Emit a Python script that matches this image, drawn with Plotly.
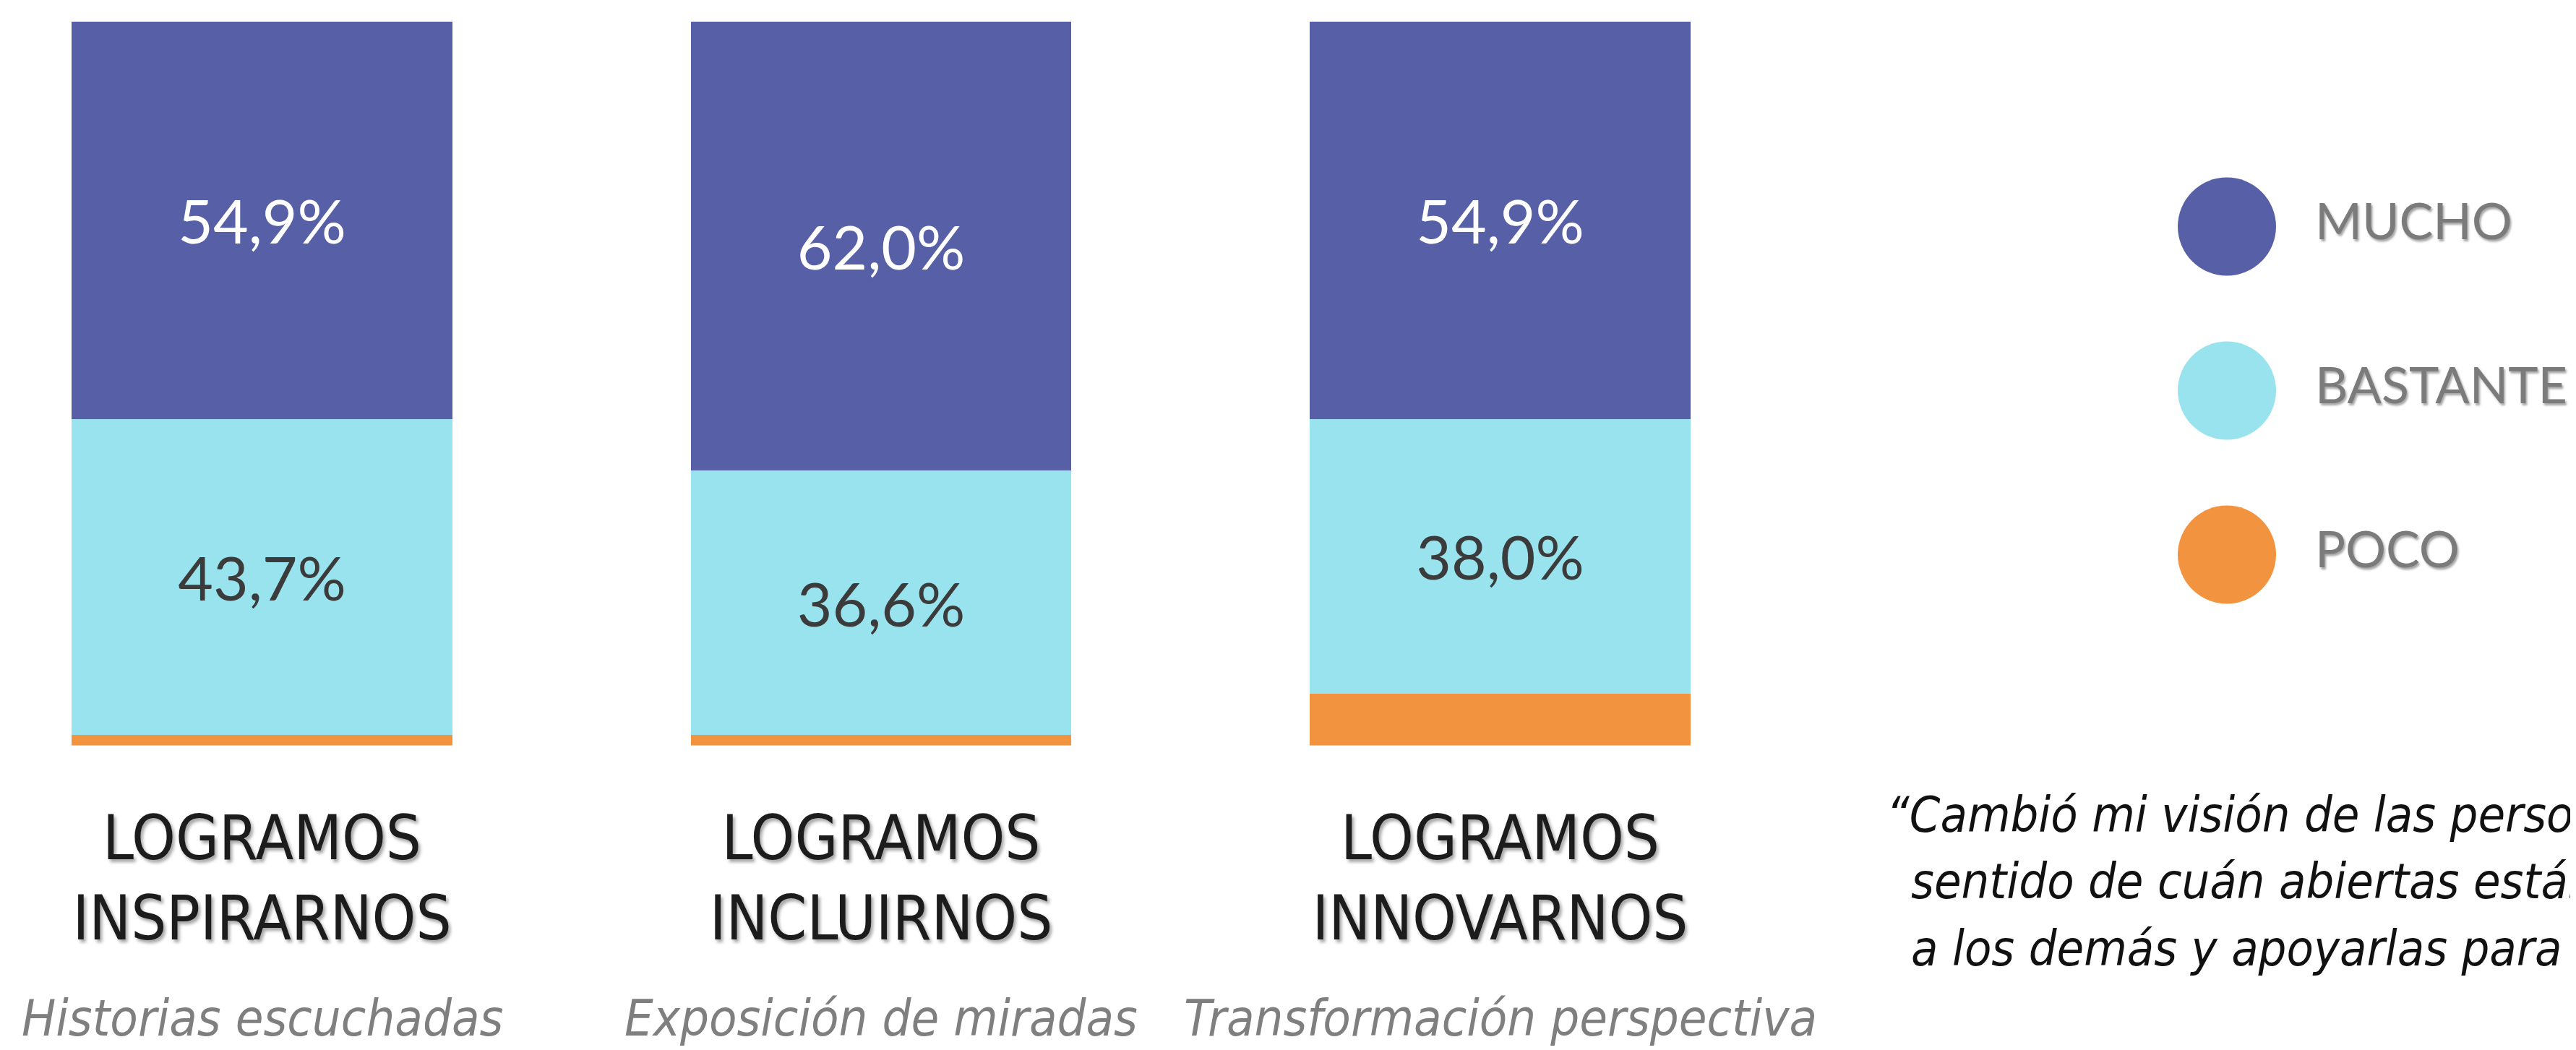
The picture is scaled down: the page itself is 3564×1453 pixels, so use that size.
import plotly.graph_objects as go

# datos
categorias = ["LOGRAMOS<br>INSPIRARNOS", "LOGRAMOS<br>INCLUIRNOS", "LOGRAMOS<br>INNOVARNOS"]
subtitulos = ["Historias escuchadas", "Exposición de miradas", "Transformación perspectiva"]
niveles = ["MUCHO", "BASTANTE", "POCO"]
mucho = [54.9, 62.0, 54.9]
bastante = [43.7, 36.6, 38.0]
poco = [1.4, 1.4, 7.1]
colores = {"MUCHO": "#5760A6", "BASTANTE": "#99E3EE", "POCO": "#F2943F"}
cita = ["“Cambió mi visión de las personas",
        "sentido de cuán abiertas están",
        "a los demás y apoyarlas para"]

W, H = 3564, 1453
NARROW = "Liberation Sans Narrow, DejaVu Sans Condensed, Arial Narrow, sans-serif"
GILL = "Lato, Open Sans, sans-serif"

x = list(range(len(categorias)))
fig = go.Figure()

# barras apiladas: POCO abajo, BASTANTE en medio, MUCHO arriba
series = [("POCO", poco, ""), ("BASTANTE", bastante, "%{y:.1f}%"), ("MUCHO", mucho, "%{y:.1f}%")]
for nombre, vals, tpl in series:
    fig.add_trace(go.Bar(
        x=x, y=vals, name=nombre,
        marker=dict(color=colores[nombre], line=dict(width=0)),
        texttemplate=tpl, textposition="inside", insidetextanchor="middle",
        textangle=0, constraintext="none",
        textfont=dict(family=GILL, size=84,
                      color="white" if nombre == "MUCHO" else "#3b3b3b"),
        showlegend=False, hoverinfo="skip",
    ))

# leyenda con circulos (ejes auxiliares)
pos_ley = list(range(len(niveles)))[::-1]
fig.add_trace(go.Scatter(
    x=[0] * len(niveles), y=pos_ley, mode="markers",
    marker=dict(size=136, color=[colores[n] for n in niveles], line=dict(width=0)),
    xaxis="x2", yaxis="y2", showlegend=False, hoverinfo="skip", cliponaxis=False,
))
fig.add_trace(go.Scatter(
    x=[1.22] * len(niveles), y=pos_ley, mode="text", text=niveles,
    textposition="middle right",
    textfont=dict(family=GILL, size=70, color="#7b7b7b",
                  shadow="2px 3px 3px rgba(0,0,0,0.35)"),
    xaxis="x2", yaxis="y2", showlegend=False, hoverinfo="skip", cliponaxis=False,
))

# subtitulos en cursiva bajo cada categoria
for i, s in enumerate(subtitulos):
    fig.add_annotation(
        x=i, xref="x", y=0.036, yref="paper", yanchor="middle",
        text=s, showarrow=False,
        font=dict(family=NARROW, size=70, color="#7f7f7f", style="italic"),
    )

# cita (se corta en el borde derecho, como en el original)
for i, linea in enumerate(cita):
    xl = 2600 if i == 0 else 2634
    yl = 1119 + i * 92.5
    fig.add_annotation(
        x=xl / W, xref="paper", xanchor="left", y=(H - yl) / H, yref="paper",
        yanchor="middle", text=linea, showarrow=False, align="left",
        font=dict(family=NARROW, size=68, color="#111111", style="italic"),
    )

unit = 856.5
r0 = -354.5 / unit
dom_w = 0.72
r1 = r0 + dom_w * W / unit

fig.update_layout(
    width=W, height=H,
    barmode="stack", bargap=0.385,
    separators=",.",
    margin=dict(l=0, r=0, t=0, b=0),
    paper_bgcolor="white", plot_bgcolor="white",
    xaxis=dict(domain=[0, dom_w], range=[r0, r1], tickmode="array",
               tickvals=x, ticktext=categorias, showgrid=False, zeroline=False,
               showline=False, ticks="", ticklabelstandoff=70,
               tickfont=dict(family=NARROW, size=86, color="#1c1c1c",
                             shadow="3px 4px 4px rgba(0,0,0,0.35)")),
    yaxis=dict(domain=[(H - 1023.5) / H, (H - 21.5) / H], range=[0, 100],
               visible=False, showgrid=False, zeroline=False),
    xaxis2=dict(domain=[(3073 - 100) / W, 1], range=[-1, (W - 2973) / 100 - 1],
                visible=False, anchor="y2"),
    yaxis2=dict(domain=[(H - 873) / H, (H - 192) / H], range=[-0.5, 2.5],
                visible=False, anchor="x2"),
)

fig.write_html("out.html")
